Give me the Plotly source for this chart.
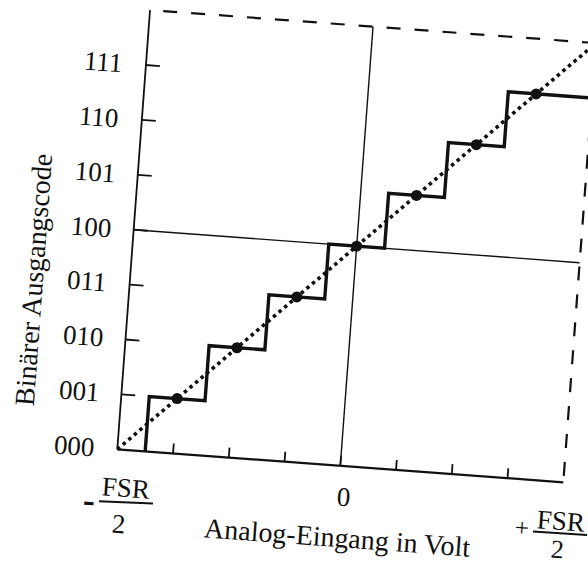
import plotly.graph_objects as go

# ---- data (chart units: input in LSB from -FSR/2, output code index) ----
full_scale_lsb = 8
code_labels = ["000", "001", "010", "011", "100", "101", "110", "111"]
code_values = [0, 1, 2, 3, 4, 5, 6, 7]
transition_inputs = [0.5, 1.5, 2.5, 3.5, 4.5, 5.5, 6.5]   # code transitions
step_codes = [1, 2, 3, 4, 5, 6, 7]
ideal_inputs = [1, 2, 3, 4, 5, 6, 7]                      # step centres
ideal_codes = [1, 2, 3, 4, 5, 6, 7]
x_tick_inputs = [1, 2, 3, 4, 5, 6, 7]
y_tick_codes = [1, 2, 3, 4, 5, 6, 7]
zero_input = 4

# ---- page geometry (scanned figure is rotated ~4.2 deg) ----
W, H = 588, 564
O = (117.3, 449.3)
U = (55.75, 4.125)    # one LSB along input axis
V = (4.09, -54.9)     # one code along output axis


def T(xs, ys):
    px = [None if x is None else O[0] + x * U[0] + y * V[0] for x, y in zip(xs, ys)]
    py = [None if x is None else O[1] + x * U[1] + y * V[1] for x, y in zip(xs, ys)]
    return px, py


INK = "#111111"
fig = go.Figure()


def add_line(xs, ys, width, dash="solid", color=INK):
    px, py = T(xs, ys)
    fig.add_trace(go.Scatter(x=px, y=py, mode="lines", hoverinfo="skip",
                             line=dict(color=color, width=width, dash=dash),
                             showlegend=False))


top = full_scale_lsb
# frame
add_line([0, 0], [0, top], 1.8)                       # left axis
add_line([0, full_scale_lsb], [0, 0], 2.2)            # bottom axis
add_line([full_scale_lsb, 0], [top, top], 2.2, dash="14px,14px")   # top dashed
add_line([full_scale_lsb, full_scale_lsb], [top, 0], 2.2, dash="14px,14px")  # right dashed
# zero lines
add_line([zero_input, zero_input], [0, top], 1.4)
add_line([0, full_scale_lsb], [code_values[4], code_values[4]], 1.4)

# ticks
tx, ty = [], []
for t in x_tick_inputs:
    tx += [t, t, None]
    ty += [0, 0.18, None]
for c in y_tick_codes:
    tx += [0, 0.25, None]
    ty += [c, c, None]
add_line(tx, ty, 1.8)

# ideal straight line (dotted)
add_line([0, full_scale_lsb], [0, full_scale_lsb], 3.6, dash="3.5px,3.8px")

# staircase transfer function
sx, sy = [transition_inputs[0]], [0]
for i, t in enumerate(transition_inputs):
    sx += [t, (transition_inputs[i + 1] if i + 1 < len(transition_inputs) else full_scale_lsb)]
    sy += [step_codes[i], step_codes[i]]
add_line(sx, sy, 3.4)

# step centre dots
mx, my = T(ideal_inputs, ideal_codes)
fig.add_trace(go.Scatter(x=mx, y=my, mode="markers", hoverinfo="skip", showlegend=False,
                         marker=dict(color=INK, size=11, line=dict(width=0))))

FONT = "Liberation Serif, Times New Roman, serif"
ANG = 4.2


def label(x, y, text, size=27, angle=ANG):
    fig.add_annotation(x=x, y=y, xref="x", yref="y", text=text, showarrow=False,
                       xanchor="center", yanchor="middle", textangle=angle,
                       font=dict(family=FONT, size=size, color=INK))


# y tick labels
for lab, c in zip(code_labels, code_values):
    px, py = T([-0.76], [c])
    label(px[0], py[0], lab)

# x labels
label(344, 497, "0")
label(125.8, 487.5, "FSR")
label(118.8, 524, "2")
label(89, 500, "<b>-</b>", size=36)
label(560.5, 520.5, "FSR")
label(557, 549, "2", size=26)
label(522, 527, "+", size=25)

# axis titles
label(337, 537, "Analog-Eingang in Volt", size=28)
label(33, 280, "Binärer Ausgangscode", size=28, angle=-90 + ANG)

# fraction bars
fig.add_shape(type="line", x0=99, y0=501.2, x1=153, y1=503.6, xref="x", yref="y",
              line=dict(color=INK, width=2))
fig.add_shape(type="line", x0=533, y0=531.6, x1=587, y1=535.0, xref="x", yref="y",
              line=dict(color=INK, width=2))

fig.update_xaxes(range=[0, W], visible=False, showgrid=False, zeroline=False, fixedrange=True)
fig.update_yaxes(range=[H, 0], visible=False, showgrid=False, zeroline=False, fixedrange=True)
fig.update_layout(width=W, height=H, margin=dict(l=0, r=0, t=0, b=0),
                  paper_bgcolor="white", plot_bgcolor="white", showlegend=False)

fig.write_html("out.html")
